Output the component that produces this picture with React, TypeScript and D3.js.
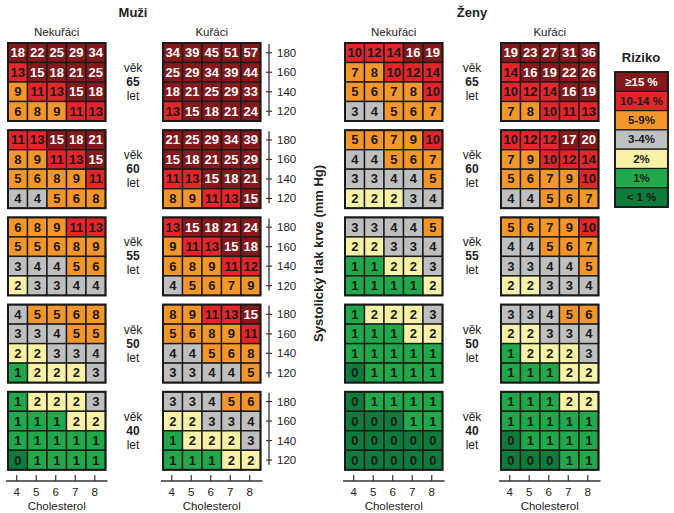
import React from "react";
import * as d3 from "d3";

const cholesterol = [4, 5, 6, 7, 8];
const pressures = [180, 160, 140, 120];
const ages = [65, 60, 55, 50, 40];

const menNonSmokers = [
  [[18, 22, 25, 29, 34], [13, 15, 18, 21, 25], [9, 11, 13, 15, 18], [6, 8, 9, 11, 13]],
  [[11, 13, 15, 18, 21], [8, 9, 11, 13, 15], [5, 6, 8, 9, 11], [4, 4, 5, 6, 8]],
  [[6, 8, 9, 11, 13], [5, 5, 6, 8, 9], [3, 4, 4, 5, 6], [2, 3, 3, 4, 4]],
  [[4, 5, 5, 6, 8], [3, 3, 4, 5, 5], [2, 2, 3, 3, 4], [1, 2, 2, 2, 3]],
  [[1, 2, 2, 2, 3], [1, 1, 1, 2, 2], [1, 1, 1, 1, 1], [0, 1, 1, 1, 1]],
];
const menSmokers = [
  [[34, 39, 45, 51, 57], [25, 29, 34, 39, 44], [18, 21, 25, 29, 33], [13, 15, 18, 21, 24]],
  [[21, 25, 29, 34, 39], [15, 18, 21, 25, 29], [11, 13, 15, 18, 21], [8, 9, 11, 13, 15]],
  [[13, 15, 18, 21, 24], [9, 11, 13, 15, 18], [6, 8, 9, 11, 12], [4, 5, 6, 7, 9]],
  [[8, 9, 11, 13, 15], [5, 6, 8, 9, 11], [4, 4, 5, 6, 8], [3, 3, 4, 4, 5]],
  [[3, 3, 4, 5, 6], [2, 2, 3, 3, 4], [1, 2, 2, 2, 3], [1, 1, 1, 2, 2]],
];
const womenNonSmokers = [
  [[10, 12, 14, 16, 19], [7, 8, 10, 12, 14], [5, 6, 7, 8, 10], [3, 4, 5, 6, 7]],
  [[5, 6, 7, 9, 10], [4, 4, 5, 6, 7], [3, 3, 4, 4, 5], [2, 2, 2, 3, 4]],
  [[3, 3, 4, 4, 5], [2, 2, 3, 3, 4], [1, 1, 2, 2, 3], [1, 1, 1, 1, 2]],
  [[1, 2, 2, 2, 3], [1, 1, 1, 2, 2], [1, 1, 1, 1, 1], [0, 1, 1, 1, 1]],
  [[0, 1, 1, 1, 1], [0, 0, 0, 1, 1], [0, 0, 0, 0, 0], [0, 0, 0, 0, 0]],
];
const womenSmokers = [
  [[19, 23, 27, 31, 36], [14, 16, 19, 22, 26], [10, 12, 14, 16, 19], [7, 8, 10, 11, 13]],
  [[10, 12, 12, 17, 20], [7, 9, 10, 12, 14], [5, 6, 7, 9, 10], [4, 4, 5, 6, 7]],
  [[5, 6, 7, 9, 10], [4, 4, 5, 6, 7], [3, 3, 4, 4, 5], [2, 2, 3, 3, 4]],
  [[3, 3, 4, 5, 6], [2, 2, 3, 3, 4], [1, 2, 2, 2, 3], [1, 1, 1, 2, 2]],
  [[1, 1, 1, 2, 2], [1, 1, 1, 1, 1], [0, 1, 1, 1, 1], [0, 0, 0, 1, 1]],
];

const panelTitles = ["Nekuřáci", "Kuřáci", "Nekuřáci", "Kuřáci"];
const groupTitles = ["Muži", "Ženy"];
const legendLabels = ["≥15 %", "10-14 %", "5-9%", "3-4%", "2%", "1%", "< 1 %"];
const riskColors = ["#0d7b3b", "#21a84b", "#f7f2a6", "#bdbfc1", "#f4962a", "#e4262b", "#84181b"];
const riskThresholds = [1, 2, 3, 5, 10, 15];

const panels = [menNonSmokers, menSmokers, womenNonSmokers, womenSmokers];
const panelX = [8, 163, 345, 501];
const PW = 97.5;
const PH = 78;
const TOP = 43;
const STEP = 87.2;

const color = d3.scaleThreshold<number, string>().domain(riskThresholds).range(riskColors);
const xBand = d3.scaleBand<number>().domain(cholesterol).range([0, PW]);
const yBand = d3.scaleBand<number>().domain(pressures).range([0, PH]);
const ageY = d3.scaleLinear().domain([0, 1]).range([TOP, TOP + STEP]);

const numFont = "'Liberation Sans Narrow','Liberation Sans',Arial,sans-serif";
const font = "'Liberation Sans',Arial,sans-serif";

function Grid({ data, x0, y0 }: { data: number[][]; x0: number; y0: number }) {
  return (
    <g transform={`translate(${x0},${y0})`}>
      {data.map((row, ri) =>
        row.map((v, ci) => {
          const x = xBand(cholesterol[ci])!;
          const y = yBand(pressures[ri])!;
          return (
            <g key={`${ri}-${ci}`}>
              <rect x={x} y={y} width={xBand.bandwidth()} height={yBand.bandwidth()} fill={color(v)} stroke="#1a1a1a" strokeWidth={1.4} />
              <text
                x={x + xBand.bandwidth() / 2}
                y={y + yBand.bandwidth() / 2 + 4.5}
                textAnchor="middle"
                fontFamily={numFont}
                fontWeight="bold"
                fontSize={13}
                fill={v >= 15 ? "#ffffff" : "#1a1a1a"}
              >
                {v}
              </text>
            </g>
          );
        })
      )}
      <rect x={0} y={0} width={PW} height={PH} fill="none" stroke="#1a1a1a" strokeWidth={2} />
    </g>
  );
}

export default function App() {
  const axisX = 269;
  return (
    <svg width={674} height={513} style={{ position: "absolute", left: 0, top: 0, background: "#fff" }}>
      <text x={133} y={17} textAnchor="middle" fontFamily={font} fontWeight="bold" fontSize={13} fill="#222">{groupTitles[0]}</text>
      <text x={472} y={17} textAnchor="middle" fontFamily={font} fontWeight="bold" fontSize={13} fill="#222">{groupTitles[1]}</text>
      {panelTitles.map((t, i) => (
        <text key={i} x={panelX[i] + PW / 2} y={36} textAnchor="middle" fontFamily={font} fontSize={11.5} fill="#222">{t}</text>
      ))}
      {panels.map((p, pi) =>
        p.map((g, ai) => <Grid key={`${pi}-${ai}`} data={g} x0={panelX[pi]} y0={ageY(ai)} />)
      )}
      {[133, 472].map((cx, k) =>
        ages.map((a, ai) => {
          const cy = ageY(ai) + PH / 2;
          return (
            <g key={`${k}-${a}`} fontFamily={font} fill="#222" textAnchor="middle">
              <text x={cx} y={cy - 10} fontSize={12}>věk</text>
              <text x={cx} y={cy + 4} fontSize={12} fontWeight="bold">{a}</text>
              <text x={cx} y={cy + 18} fontSize={12}>let</text>
            </g>
          );
        })
      )}
      {ages.map((a, ai) => {
        const y0 = ageY(ai);
        return (
          <g key={a}>
            <line x1={axisX} x2={axisX} y1={y0 + 1} y2={y0 + PH - 5} stroke="#333" strokeWidth={1.3} />
            {pressures.map((bp) => {
              const y = y0 + yBand(bp)! + yBand.bandwidth() / 2;
              return (
                <g key={bp}>
                  <line x1={axisX - 3} x2={axisX + 3} y1={y} y2={y} stroke="#333" strokeWidth={1.2} />
                  <text x={277} y={y + 4} fontFamily={font} fontSize={11.5} fill="#222">{bp}</text>
                </g>
              );
            })}
          </g>
        );
      })}
      <text transform={`translate(323,${ageY(2) + PH / 2 - 3}) rotate(-90)`} textAnchor="middle" fontFamily={font} fontWeight="bold" fontSize={13} fill="#222">
        Systolický tlak krve (mm Hg)
      </text>
      {panelX.map((px, i) => (
        <g key={i} transform={`translate(${px},0)`}>
          <line x1={-2} x2={PW + 2} y1={481} y2={481} stroke="#333" strokeWidth={1.3} />
          {cholesterol.map((c) => {
            const x = xBand(c)! + xBand.bandwidth() / 2 - 1;
            return (
              <g key={c}>
                <line x1={x} x2={x} y1={475} y2={481} stroke="#333" strokeWidth={1.2} />
                <text x={x} y={496} textAnchor="middle" fontFamily={font} fontSize={11.5} fill="#222">{c}</text>
              </g>
            );
          })}
          <text x={PW / 2} y={510} textAnchor="middle" fontFamily={font} fontSize={11.5} fill="#222">Cholesterol</text>
        </g>
      ))}
      <text x={641} y={62} textAnchor="middle" fontFamily={font} fontWeight="bold" fontSize={13} fill="#222">Riziko</text>
      {legendLabels.map((l, i) => {
        const c = riskColors[riskColors.length - 1 - i];
        const y = 72 + i * 19.3;
        return (
          <g key={l}>
            <rect x={615} y={y} width={53} height={19.3} fill={c} stroke="#1a1a1a" strokeWidth={1.2} />
            <text x={641.5} y={y + 13.5} textAnchor="middle" fontFamily={numFont} fontWeight="bold" fontSize={11.5} fill={i === 0 ? "#fff" : "#1a1a1a"}>{l}</text>
          </g>
        );
      })}
      <rect x={615} y={72} width={53} height={19.3 * 7} fill="none" stroke="#1a1a1a" strokeWidth={1.8} />
    </svg>
  );
}
